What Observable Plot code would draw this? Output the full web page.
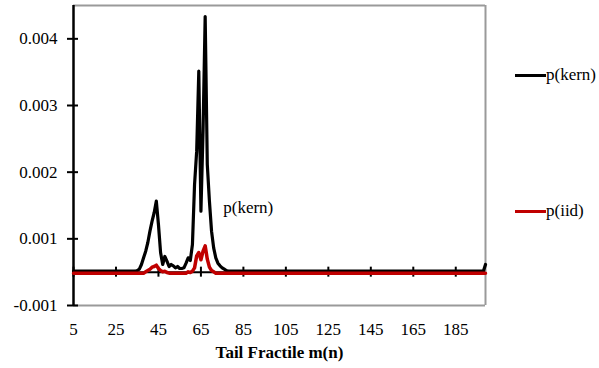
<!DOCTYPE html>
<html>
<head>
<meta charset="utf-8">
<script src="https://cdn.jsdelivr.net/npm/d3@7"></script>
<script src="https://cdn.jsdelivr.net/npm/@observablehq/plot@0.6"></script>
<style>
  body { margin: 0; background: white; }
  #wrap { position: relative; width: 599px; height: 368px; font-family: 'Liberation Serif', 'Times New Roman', serif; }
  #wrap svg text { font-family: 'Liberation Serif', 'Times New Roman', serif; }
  .leg { position: absolute; font-size: 17px; line-height: 17px; color: black; }
  .legline { position: absolute; height: 3px; width: 31px; }
</style>
</head>
<body>
<div id="wrap"></div>
<script>
// Category axis (tail fractile m) and tick labels
const xDomain = [5, 199];
const xTicks = [5, 25, 45, 65, 85, 105, 125, 145, 165, 185];
const yDomain = [-0.0005, 0.004];
const yTicks = [-0.0005, 0.0005, 0.0015, 0.0025, 0.0035];
const yTickLabels = ["-0.001", "0.001", "0.002", "0.003", "0.004"];
const xTitle = "Tail Fractile m(n)";

// p(kern) series (m, value)
const kernM = [5, 34, 35, 36, 37, 38, 39, 40, 41, 42, 43, 44, 45, 46, 47, 48, 49, 50, 51, 52, 53, 54, 55, 56, 57, 58, 59, 60,
  61, 62, 63, 64, 65, 66, 67, 68, 69, 70, 71, 72, 73, 74, 75, 76, 77, 78, 198, 199];
const kernP = [0, 0, 0.00001, 0.00003, 0.0001, 0.0002, 0.0003, 0.00043, 0.0006, 0.00075, 0.00088, 0.00105, 0.0007, 0.00028, 0.0001,
  0.00022, 0.00015, 0.00007, 0.0001, 0.00008, 0.00005, 0.00007, 0.00004, 0.00004, 0.00005, 0.00012, 0.0002, 0.00016,
  0.0004, 0.0013, 0.0018, 0.0030, 0.0009, 0.0021, 0.00382, 0.0016, 0.00105, 0.0006, 0.00035, 0.0002, 0.00012, 0.00008,
  0.00005, 0.00003, 0.00001, 0, 0, 0.0001];

// p(iid) series (m, value)
const iidM = [5, 38, 39, 40, 41, 42, 43, 44, 45, 46, 47, 48, 49, 50, 58, 59, 60, 61, 62, 63, 64, 65, 66, 67, 68, 69, 70, 71, 72, 199];
const iidP = [0, 0, 0.00002, 0.00004, 0.00006, 0.00009, 0.0001, 0.00012, 0.00007, 0.00004, 0.00002, 0.00003, 0.00001, 0,
  0, 0.00002, 0.00001, 0.00003, 0.00008, 0.00026, 0.00031, 0.0002, 0.00033, 0.00041, 0.00021, 0.00009, 0.00004, 0.00002, 0, 0];

// In-plot annotation
const annoM = [75.5];
const annoP = [0.00097];
const annoText = ["p(kern)"];

// Legend
const seriesNames = ["p(kern)", "p(iid)"];
const seriesColors = ["#000000", "#C00000"];

const kern = kernM.map((m, i) => ({m, p: kernP[i]}));
const iid = iidM.map((m, i) => ({m, p: iidP[i]}));
const anno = annoM.map((m, i) => ({m, p: annoP[i], t: annoText[i]}));
const yLabelOf = new Map(yTicks.map((t, i) => [t, yTickLabels[i]]));

const chart = Plot.plot({
  width: 599,
  height: 368,
  marginLeft: 73,
  marginRight: 114,
  marginTop: 5,
  marginBottom: 63,
  style: {fontFamily: "'Liberation Serif', 'Times New Roman', serif", fontSize: "17px", background: "white", color: "black"},
  x: {domain: xDomain},
  y: {domain: yDomain},
  marks: [
    Plot.ruleY([yDomain[1]], {stroke: "#9a9a9a", strokeWidth: 2}),
    Plot.ruleY([yDomain[0]], {stroke: "#9a9a9a", strokeWidth: 2}),
    Plot.ruleX([xDomain[1]], {stroke: "#9a9a9a", strokeWidth: 2}),
    Plot.ruleX([xDomain[0]], {stroke: "black", strokeWidth: 2.5}),
    Plot.ruleY(yTicks, {x1: xDomain[0], x2: xDomain[0], insetLeft: -6, insetRight: -5, stroke: "black", strokeWidth: 2}),
    Plot.axisY({ticks: yTicks, tickSize: 0, tickPadding: 16, tickFormat: d => yLabelOf.get(d), label: null, fontSize: 17}),
    Plot.axisX({ticks: xTicks, tickSize: 0, tickPadding: 17, label: null, fontSize: 17}),
    Plot.ruleY([0], {stroke: "black", strokeWidth: 2}),
    Plot.ruleX(xTicks, {y1: 0, y2: 0, insetTop: -5, insetBottom: -5, stroke: "black", strokeWidth: 2}),
    Plot.line(kern, {x: "m", y: "p", stroke: seriesColors[0], strokeWidth: 3.2, strokeLinejoin: "round", dy: -1}),
    Plot.line(iid, {x: "m", y: "p", stroke: seriesColors[1], strokeWidth: 3.5, strokeLinejoin: "round", dy: 1}),
    Plot.text(anno, {x: "m", y: "p", text: "t", textAnchor: "start", fontSize: 17}),
    Plot.text([xTitle], {frameAnchor: "bottom", text: d => d, dy: 47, lineAnchor: "middle", fontWeight: "bold", fontSize: 17})
  ]
});
const wrap = document.getElementById("wrap");
wrap.appendChild(chart);

const legTops = [75, 211];
seriesNames.forEach((name, i) => {
  const ln = document.createElement("div");
  ln.className = "legline";
  ln.style.left = "515px";
  ln.style.top = (legTops[i] - 1.5) + "px";
  ln.style.background = seriesColors[i];
  wrap.appendChild(ln);
  const tx = document.createElement("div");
  tx.className = "leg";
  tx.style.left = "546px";
  tx.style.top = (legTops[i] - 9) + "px";
  tx.textContent = name;
  wrap.appendChild(tx);
});
</script>
</body>
</html>
